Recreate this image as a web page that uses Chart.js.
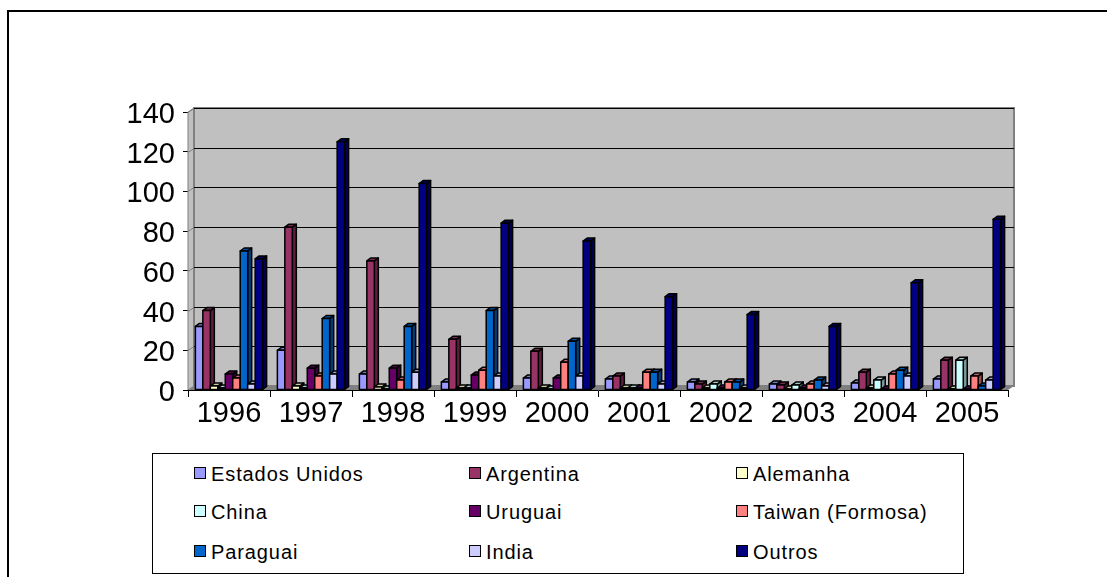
<!DOCTYPE html>
<html>
<head>
<meta charset="utf-8">
<script src="https://cdn.jsdelivr.net/npm/chart.js@4/dist/chart.umd.min.js"></script>
<style>
  html, body { margin: 0; padding: 0; background: #fff; overflow: hidden; }
  #wrap { position: relative; width: 1107px; height: 577px; }
  #frame { position: absolute; left: 7px; top: 10px; width: 1120px; height: 600px; border: 2px solid #000; box-sizing: border-box; }
  canvas { position: absolute; left: 0; top: 0; }
  #legend { position: absolute; left: 152px; top: 453px; width: 812px; height: 121px; border: 1px solid #000; box-sizing: border-box; background: #fff;
            font-family: "Liberation Sans", Arial, sans-serif; font-size: 20px; letter-spacing: 0.9px; color: #000; }
  .item { position: absolute; height: 24px; line-height: 24px; white-space: nowrap; }
  .sw { position: absolute; left: 0; top: 5px; width: 10px; height: 10px; border: 1.5px solid #000; }
  .lbl { position: absolute; left: 17px; top: 0; }
</style>
</head>
<body>
<div id="wrap">
  <div id="frame"></div>
  <canvas id="c" width="1107" height="577"></canvas>
  <div id="legend"></div>
</div>
<script>
// ---- data ----
const years = ['1996','1997','1998','1999','2000','2001','2002','2003','2004','2005'];
const seriesNames = ['Estados Unidos','Argentina','Alemanha','China','Uruguai','Taiwan (Formosa)','Paraguai','India','Outros'];
const estadosUnidos = [32, 20, 8, 4, 6, 5.5, 4, 3, 3.5, 5.5];
const argentina     = [40, 82, 65, 25.5, 19.5, 7, 3, 2.5, 9, 15];
const alemanha      = [2, 2, 1.5, 1, 1, 1, 1, 0.5, 1, 0.5];
const china         = [1, 1, 0.5, 1, 0.5, 1, 3, 2.5, 5, 15];
const uruguai       = [8, 11, 11, 7.5, 6, 1, 1, 1, 0.5, 0.5];
const taiwan        = [6, 7, 5, 10, 14, 9, 4, 3, 8, 7];
const paraguai      = [70, 36, 32, 40, 24.5, 9, 4, 5, 10, 2];
const india         = [3, 8, 9, 7, 7, 3, 1, 2, 7, 5];
const outros        = [66, 125, 104, 84, 75, 47, 38, 32, 54, 86];
const yTicks = [0, 20, 40, 60, 80, 100, 120, 140];

const seriesValues = [estadosUnidos, argentina, alemanha, china, uruguai, taiwan, paraguai, india, outros];
const seriesColors = ['#9999FF','#993366','#FFFFCC','#CCFFFF','#660066','#FF8080','#0066CC','#CCCCFF','#000080'];

// ---- helpers ----
function shade(hex, f) {
  const n = parseInt(hex.slice(1), 16);
  let r = (n >> 16) & 255, g = (n >> 8) & 255, b = n & 255;
  r = Math.round(r * f); g = Math.round(g * f); b = Math.round(b * f);
  return 'rgb(' + Math.min(255,r) + ',' + Math.min(255,g) + ',' + Math.min(255,b) + ')';
}
const WALL_DX = 6, WALL_DY = 4;   // back wall depth offset
const BAR_DX = 4, BAR_DY = 3;     // bar depth offset

const wallPlugin = {
  id: 'wall3d',
  beforeDatasetsDraw(chart) {
    const ctx = chart.ctx, ca = chart.chartArea, ys = chart.scales.y;
    ctx.save();
    ctx.fillStyle = '#C0C0C0';
    ctx.fillRect(ca.left + WALL_DX, ca.top - WALL_DY, ca.right - ca.left, ca.bottom - ca.top);
    ctx.beginPath();
    ctx.moveTo(ca.left, ca.top); ctx.lineTo(ca.left + WALL_DX, ca.top - WALL_DY);
    ctx.lineTo(ca.left + WALL_DX, ca.bottom - WALL_DY); ctx.lineTo(ca.left, ca.bottom); ctx.closePath();
    ctx.fillStyle = '#C0C0C0'; ctx.fill();
    ctx.strokeStyle = '#808080'; ctx.lineWidth = 1; ctx.stroke();
    ctx.beginPath();
    ctx.moveTo(ca.left, ca.bottom); ctx.lineTo(ca.left + WALL_DX, ca.bottom - WALL_DY);
    ctx.lineTo(ca.right + WALL_DX, ca.bottom - WALL_DY); ctx.lineTo(ca.right, ca.bottom); ctx.closePath();
    ctx.fillStyle = '#808080'; ctx.fill();
    ctx.strokeStyle = '#808080'; ctx.lineWidth = 2;
    ctx.strokeRect(ca.left + WALL_DX, ca.top - WALL_DY, ca.right - ca.left, ca.bottom - ca.top);
    ctx.strokeStyle = '#000'; ctx.lineWidth = 1;
    yTicks.forEach(v => {
      if (v === 0) return;
      const y = Math.round(ys.getPixelForValue(v)) + 0.5;
      ctx.beginPath();
      ctx.moveTo(ca.left + WALL_DX, y - WALL_DY); ctx.lineTo(ca.right + WALL_DX, y - WALL_DY);
      ctx.stroke();
      ctx.beginPath(); ctx.strokeStyle = '#808080';
      ctx.moveTo(ca.left, y); ctx.lineTo(ca.left + WALL_DX, y - WALL_DY); ctx.stroke();
      ctx.strokeStyle = '#000';
    });
    ctx.restore();
  },
  afterDatasetsDraw(chart) {
    const ctx = chart.ctx;
    ctx.save();
    ctx.lineWidth = 1.5; ctx.strokeStyle = '#000'; ctx.lineJoin = 'round';
    chart.data.datasets.forEach((ds, i) => {
      const meta = chart.getDatasetMeta(i);
      const col = seriesColors[i];
      meta.data.forEach(bar => {
        const p = bar.getProps(['x','y','base','width'], true);
        const l = p.x - p.width / 2, r = p.x + p.width / 2, t = p.y, b = p.base;
        ctx.beginPath();
        ctx.moveTo(r, t); ctx.lineTo(r + BAR_DX, t - BAR_DY); ctx.lineTo(r + BAR_DX, b - BAR_DY); ctx.lineTo(r, b); ctx.closePath();
        ctx.fillStyle = shade(col, 0.6); ctx.fill(); ctx.stroke();
        ctx.beginPath();
        ctx.moveTo(l, t); ctx.lineTo(l + BAR_DX, t - BAR_DY); ctx.lineTo(r + BAR_DX, t - BAR_DY); ctx.lineTo(r, t); ctx.closePath();
        ctx.fillStyle = shade(col, 0.8); ctx.fill(); ctx.stroke();
        ctx.beginPath(); ctx.rect(l, t, r - l, b - t);
        ctx.fillStyle = col; ctx.fill(); ctx.stroke();
      });
    });
    ctx.restore();
  }
};

const FONT = '"Liberation Sans", Arial, sans-serif';

new Chart(document.getElementById('c'), {
  type: 'bar',
  data: {
    labels: years,
    datasets: seriesValues.map((vals, i) => ({
      label: seriesNames[i],
      data: vals,
      backgroundColor: seriesColors[i],
      borderColor: '#000',
      borderWidth: 0,
      categoryPercentage: 0.82,
      barPercentage: 1.0
    }))
  },
  options: {
    responsive: false,
    animation: false,
    events: [],
    layout: { padding: { left: 0, top: 112, right: 99, bottom: 137 } },
    plugins: { legend: { display: false }, tooltip: { enabled: false }, title: { display: false } },
    scales: {
      x: {
        grid: { offset: true, drawOnChartArea: false, drawTicks: true, tickLength: 7, color: '#000' },
        border: { color: '#000', width: 1 },
        ticks: { color: '#000', font: { family: FONT, size: 29 }, padding: 0, maxRotation: 0, autoSkip: false },
        afterFit(s) { s.height = 50; }
      },
      y: {
        min: 0, max: 140,
        afterBuildTicks(s) { s.ticks = yTicks.map(v => ({ value: v })); },
        grid: { drawOnChartArea: false, drawTicks: true, tickLength: 5, color: '#000' },
        border: { color: '#000', width: 1 },
        ticks: { color: '#000', font: { family: FONT, size: 29 }, padding: 8, labelOffset: 3 },
        afterFit(s) { s.width = 188; }
      }
    }
  },
  plugins: [wallPlugin]
});

// ---- HTML legend (3 columns x 3 rows) ----
const legend = document.getElementById('legend');
const colX = [41, 316, 583];
const rowY = [8, 46, 86];
seriesNames.forEach((name, i) => {
  const it = document.createElement('div');
  it.className = 'item';
  it.style.left = colX[i % 3] + 'px';
  it.style.top = rowY[Math.floor(i / 3)] + 'px';
  const sw = document.createElement('span'); sw.className = 'sw'; sw.style.background = seriesColors[i];
  const lb = document.createElement('span'); lb.className = 'lbl'; lb.textContent = name;
  it.appendChild(sw); it.appendChild(lb);
  legend.appendChild(it);
});
</script>
</body>
</html>
